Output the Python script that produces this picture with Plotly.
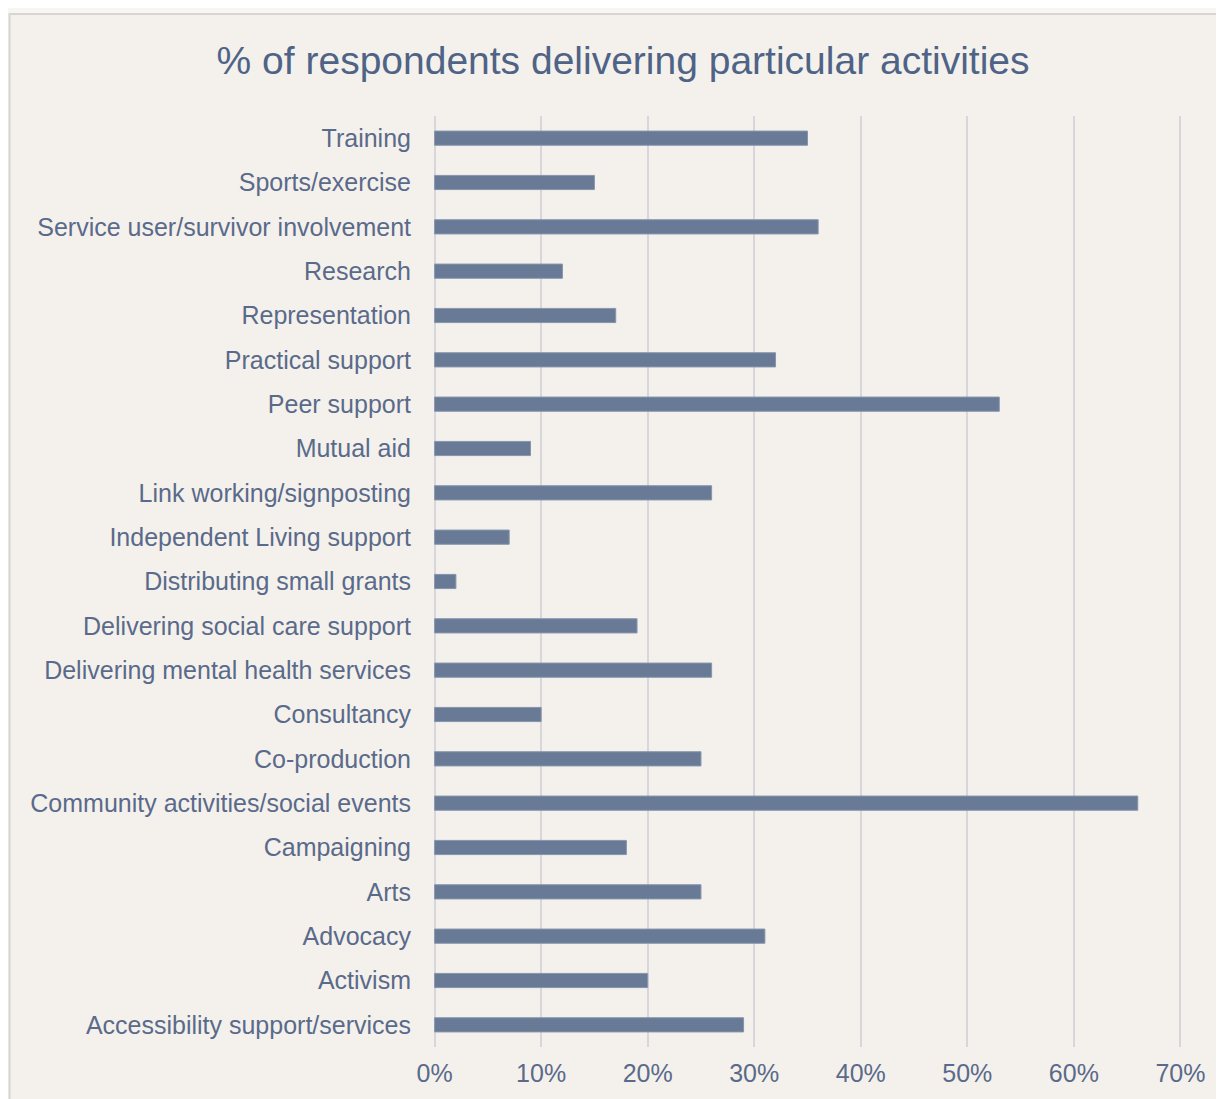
import plotly.graph_objects as go

activities = [
    "Training",
    "Sports/exercise",
    "Service user/survivor involvement",
    "Research",
    "Representation",
    "Practical support",
    "Peer support",
    "Mutual aid",
    "Link working/signposting",
    "Independent Living support",
    "Distributing small grants",
    "Delivering social care support",
    "Delivering mental health services",
    "Consultancy",
    "Co-production",
    "Community activities/social events",
    "Campaigning",
    "Arts",
    "Advocacy",
    "Activism",
    "Accessibility support/services",
]
share = [0.35, 0.15, 0.36, 0.12, 0.17, 0.32, 0.53, 0.09, 0.26, 0.07, 0.02,
         0.19, 0.26, 0.10, 0.25, 0.66, 0.18, 0.25, 0.31, 0.20, 0.29]
x_ticks = [0, 0.1, 0.2, 0.3, 0.4, 0.5, 0.6, 0.7]

TEXT = "#5a6a8a"
FONT = "Liberation Sans, Arial, sans-serif"

fig = go.Figure(
    go.Bar(
        x=share,
        y=activities,
        orientation="h",
        marker=dict(color="#687a96", line=dict(color="#8595ad", width=1)),
        width=0.32,
        hoverinfo="x+y",
    )
)

# chart frame (left/top edges visible, runs off the page to the right/bottom)
fig.add_shape(
    type="rect", xref="paper", yref="paper",
    x0=-0.5654, x1=1.2, y0=-0.12, y1=1.1096,
    line=dict(color="#d6d6d6", width=2),
    fillcolor="#f4f1ec", layer="below",
)

fig.update_layout(
    width=1224,
    height=1099,
    paper_bgcolor="#f8f6f1",
    plot_bgcolor="rgba(0,0,0,0)",
    margin=dict(l=425, r=50, t=108, b=60),
    title=dict(
        text="% of respondents delivering particular activities",
        x=0.5025, xanchor="center", y=0.9527, yanchor="middle",
        font=dict(family=FONT, size=39, color="#4f6386"),
    ),
    font=dict(family=FONT, color=TEXT, size=25),
    showlegend=False,
)
fig.update_xaxes(
    range=[-0.0015, 0.7015],
    tickvals=x_ticks,
    tickformat=".0%",
    showgrid=True,
    gridcolor="#d6d6dc",
    gridwidth=2,
    zeroline=False,
    showline=False,
    ticklabelstandoff=9,
    tickfont=dict(size=25, color=TEXT),
)
fig.update_yaxes(
    autorange="reversed",
    showgrid=False,
    showline=False,
    ticklabelstandoff=21,
    tickfont=dict(size=25, color=TEXT),
)

fig.write_html("out.html")
